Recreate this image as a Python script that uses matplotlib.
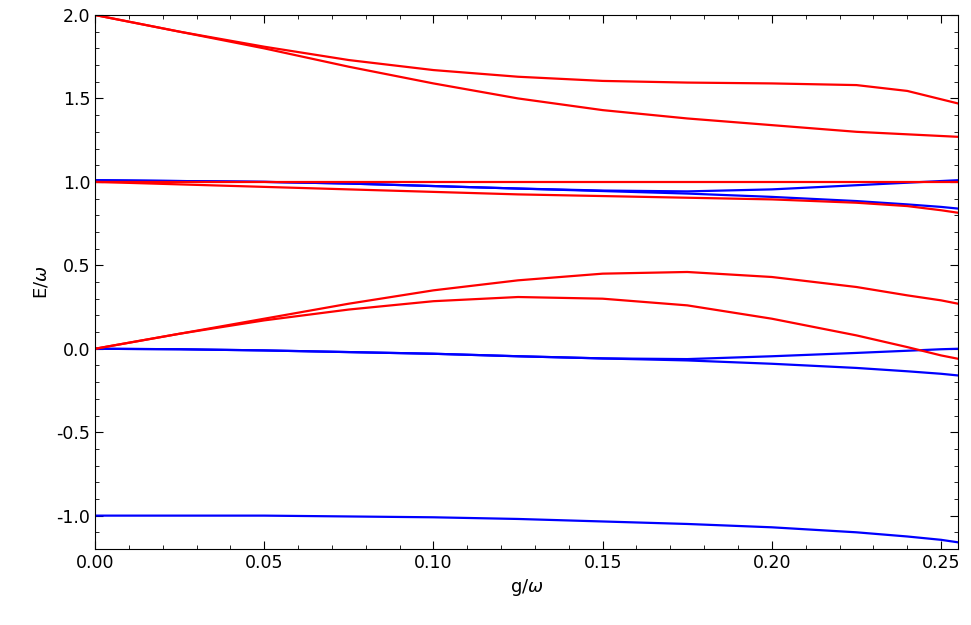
import matplotlib
matplotlib.use("Agg")
from matplotlib import pyplot as plt
from matplotlib.ticker import MultipleLocator, FormatStrFormatter

matplotlib.rcParams["axes.unicode_minus"] = False

g = [0, .025, .05, .075, .1, .125, .15, .175, .2, .225, .24, .25, .255]

red_curves = [
    [2.0, 1.90, 1.81, 1.73, 1.67, 1.63, 1.605, 1.595, 1.59, 1.58, 1.545, 1.495, 1.47],
    [2.0, 1.90, 1.80, 1.69, 1.59, 1.50, 1.43, 1.38, 1.34, 1.30, 1.285, 1.275, 1.27],
    [1.0] * 13,
    [1.0, 0.985, 0.97, 0.955, 0.94, 0.925, 0.915, 0.905, 0.895, 0.875, 0.855, 0.83, 0.815],
    [0, 0.09, 0.18, 0.27, 0.35, 0.41, 0.45, 0.46, 0.43, 0.37, 0.32, 0.29, 0.27],
    [0, 0.09, 0.17, 0.235, 0.285, 0.31, 0.30, 0.26, 0.18, 0.08, 0.01, -0.04, -0.06],
]
blue_curves = [
    [1.01, 1.005, 1.0, 0.99, 0.975, 0.96, 0.948, 0.943, 0.955, 0.98, 0.995, 1.005, 1.01],
    [1.01, 1.005, 1.0, 0.99, 0.975, 0.96, 0.945, 0.93, 0.91, 0.885, 0.865, 0.85, 0.84],
    [0, -0.003, -0.01, -0.02, -0.03, -0.045, -0.058, -0.062, -0.045, -0.025, -0.012, -0.003, 0.0],
    [0, -0.003, -0.01, -0.02, -0.03, -0.045, -0.058, -0.07, -0.09, -0.115, -0.135, -0.15, -0.16],
    [-1, -1.0, -1.0, -1.005, -1.01, -1.02, -1.035, -1.05, -1.07, -1.1, -1.125, -1.145, -1.16],
]

fig = plt.figure(figsize=(9.71, 6.25), dpi=100)
ax = fig.add_axes([95 / 971, 1 - 549 / 625, 863 / 971, 534 / 625])

for y in blue_curves:
    ax.plot(g, y, c="blue", lw=1.6)
for y in red_curves:
    ax.plot(g, y, c="red", lw=1.6)

ax.set_xlim(0, 0.255)
ax.set_ylim(-1.2, 2.0)
ax.xaxis.set_major_locator(MultipleLocator(0.05))
ax.xaxis.set_minor_locator(MultipleLocator(0.01))
ax.yaxis.set_major_locator(MultipleLocator(0.5))
ax.yaxis.set_minor_locator(MultipleLocator(0.1))
ax.xaxis.set_major_formatter(FormatStrFormatter("%.2f"))
ax.yaxis.set_major_formatter(FormatStrFormatter("%.1f"))
ax.tick_params(which="both", direction="in", top=True, right=True, labelsize=12.5)
ax.tick_params(which="major", length=6)
ax.tick_params(which="minor", length=3)
ax.set_xlabel(r"g/$\omega$", fontsize=13)
ax.set_ylabel(r"E/$\omega$", fontsize=13)

plt.savefig("out.png", dpi=100)
